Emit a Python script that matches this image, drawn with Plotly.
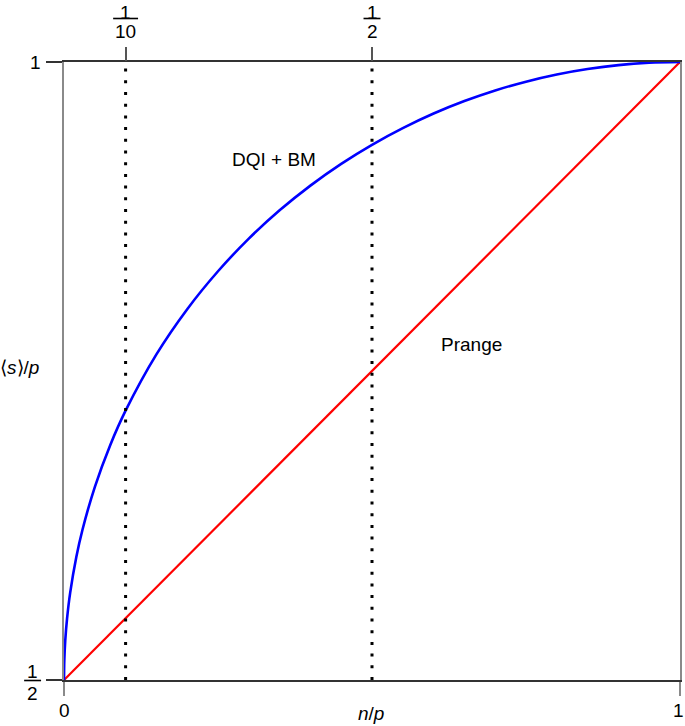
import plotly.graph_objects as go

# ---- data ----
x_dqi = [0.0, 0.0005, 0.002, 0.005, 0.01, 0.02, 0.03, 0.05, 0.075, 0.1, 0.15, 0.2, 0.25,
         0.3, 0.35, 0.4, 0.45, 0.5, 0.55, 0.6, 0.65, 0.7, 0.75, 0.8, 0.85, 0.9, 0.95, 1.0]
y_dqi = [0.5, 0.5158, 0.5316, 0.5499, 0.5705, 0.5995, 0.6216, 0.6561, 0.6900, 0.7179, 0.7634,
         0.8000, 0.8307, 0.8571, 0.8800, 0.9000, 0.9176, 0.9330, 0.9465, 0.9583, 0.9684,
         0.9770, 0.9841, 0.9899, 0.9943, 0.9975, 0.9994, 1.0]
x_prange = [0.0, 1.0]
y_prange = [0.5, 1.0]
x_marks = [0.1, 0.5]           # dotted reference lines (top ticks)
x_mark_num = ["1", "1"]
x_mark_den = ["10", "2"]
label_dqi = "DQI + BM"
label_prange = "Prange"

FONT = "Liberation Sans, Arial, Helvetica, sans-serif"
FS = 19

W, H = 685, 726
L, R, T, B = 64, 3, 62, 46
PW, PH = W - L - R, H - T - B


def px(xp):
    return (xp - L) / PW


def py(yp):
    return (H - B - yp) / PH


fig = go.Figure()

for xm in x_marks:
    fig.add_trace(go.Scatter(x=[xm, xm], y=[0.5, 1.0], mode="lines",
                             line=dict(color="black", width=3, dash="3px,8.7px"),
                             hoverinfo="skip", showlegend=False, xaxis="x2"))

fig.add_trace(go.Scatter(x=x_prange, y=y_prange, mode="lines",
                         line=dict(color="#ff0000", width=2.2), showlegend=False))
fig.add_trace(go.Scatter(x=x_dqi, y=y_dqi, mode="lines", line_shape="spline",
                         line=dict(color="#0000ff", width=2.6), showlegend=False))

annotations = []
shapes = []


def text(xp, yp, s, size=FS, yanchor="middle"):
    annotations.append(dict(x=px(xp), y=py(yp), xref="paper", yref="paper", text=s,
                            showarrow=False, xanchor="center", yanchor=yanchor,
                            font=dict(family=FONT, size=size, color="black")))


def bar(xc, ybar, barw):
    shapes.append(dict(type="line", xref="paper", yref="paper",
                       x0=px(xc - barw / 2), x1=px(xc + barw / 2), y0=py(ybar), y1=py(ybar),
                       line=dict(color="black", width=1.6)))


# top fractions at dotted lines
for xm, n, d in zip(x_marks, x_mark_num, x_mark_den):
    xc = L + xm * PW
    text(xc, 0, n, yanchor="top")
    bar(xc, 18.5, 25 if len(d) > 1 else 17)
    text(xc, 31, d)

# y labels
text(35, 62, "1")
text(32.5, 671, "1")
bar(32.5, 680.5, 17)
text(32.5, 693.5, "2")
# x labels
text(64, 711, "0")
text(680, 711, "1")
# axis titles
text(19.5, 367, "⟨<i>s</i>⟩/<i>p</i>")
text(372, 713, "<i>n</i>/<i>p</i>")
# curve labels
text(275, 159, label_dqi)
text(473, 345, label_prange)

fig.update_layout(
    width=W, height=H,
    margin=dict(l=L, r=R, t=T, b=B),
    paper_bgcolor="white", plot_bgcolor="white",
    showlegend=False,
    annotations=annotations, shapes=shapes,
    xaxis=dict(range=[0, 1], showgrid=False, zeroline=False, showline=True,
               linecolor="#333333", linewidth=1.5, mirror=True,
               ticks="outside", ticklen=14, tickwidth=2, tickcolor="#8a8a8a",
               tickvals=[0, 1], showticklabels=False, fixedrange=True),
    xaxis2=dict(range=[0, 1], overlaying="x", side="top", showgrid=False,
                zeroline=False, showline=False, ticks="outside", ticklen=14,
                tickwidth=1.5, tickcolor="#555555", tickvals=x_marks,
                showticklabels=False),
    yaxis=dict(range=[0.5, 1], showgrid=False, zeroline=False, showline=True,
               linecolor="#8a8a8a", linewidth=2, mirror=True,
               ticks="outside", ticklen=16, tickwidth=1.5, tickcolor="#333333",
               tickvals=[0.5, 1], showticklabels=False),
)

fig.write_html("out.html", config={"displayModeBar": False},
               post_script="document.body.style.margin='0';document.body.style.overflow='hidden';")
